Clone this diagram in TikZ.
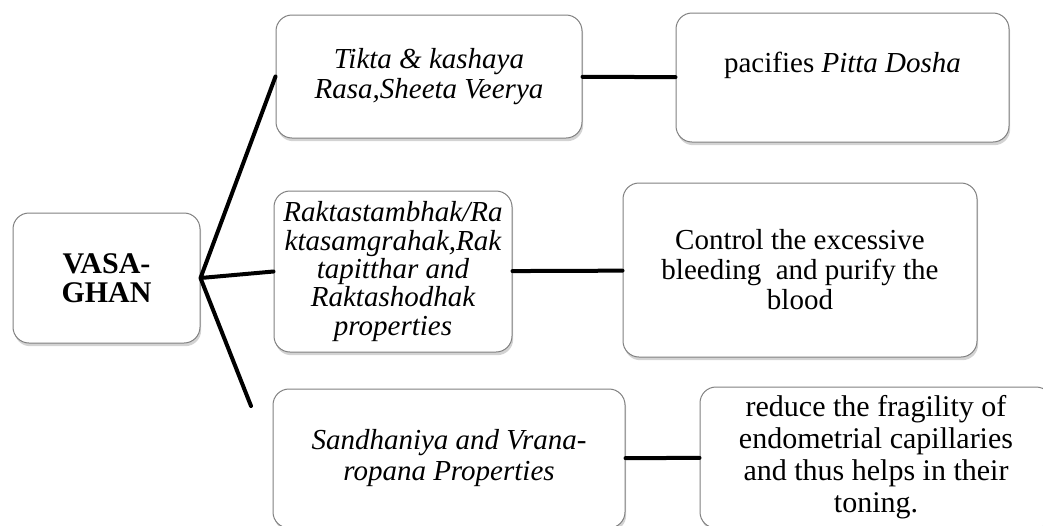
\documentclass[tikz,border=0pt]{standalone}
\usepackage{fontspec}
\setmainfont{Liberation Serif}[ItalicFont={Liberation Serif Italic}, BoldFont={Liberation Serif Bold}]
\usetikzlibrary{shadows}
\begin{document}
\begin{tikzpicture}[x=0.5pt,y=-0.5pt, font=\fontsize{14.5}{15}\selectfont, line join=round, line cap=round,
		box/.style={draw=black!50, line width=0.5pt, rounded corners=8pt, fill=white, align=center, inner sep=2pt,
			drop shadow={shadow xshift=0.6pt, shadow yshift=-1.6pt, opacity=0.35}},
		link/.style={line width=2pt}]
				\useasboundingbox (0,0) rectangle (1043,525);
				\clip (0,0) rectangle (1043,525);
				\node[box, minimum width=93.5pt, minimum height=65pt, font=\fontsize{15}{14.5}\selectfont\bfseries] (vasa) at (106.5,278) {VASA-\\GHAN};
				\node[box, minimum width=153pt, minimum height=61.5pt] (tikta) at (429,76.5) {\itshape Tikta \& kashaya\\ \itshape Rasa,Sheeta Veerya};
				\node[box, minimum width=166.5pt, minimum height=64.5pt] (pitta) at (842.5,77.5) {pacifies \textit{Pitta Dosha}\\ \mbox{}};
				\node[box, minimum width=119pt, minimum height=80.5pt, font=\fontsize{14.5}{14.2}\selectfont\itshape] (rakta) at (393,271.5) {Raktastambhak/Ra\\ktasamgrahak,Rak\\tapitthar and\\Raktashodhak\\properties};
				\node[box, minimum width=177pt, minimum height=87pt] (bleed) at (800,270) {Control the excessive\\bleeding\ \ and purify the\\blood};
				\node[box, minimum width=176pt, minimum height=69.5pt, font=\fontsize{14.5}{15.5}\selectfont\itshape] (sandh) at (449,458.5) {Sandhaniya and Vrana-\\ropana Properties};
				\node[box, minimum width=176pt, minimum height=70.5pt, font=\fontsize{15}{16}\selectfont] (tone) at (876,457.5) {reduce the fragility\ of\\endometrial capillaries\\and thus helps in their\\toning.};
				\coordinate (tail) at (251,406);
				\draw[link] (tikta.west) -- (vasa.east) -- (rakta.west) (vasa.east) -- (tail);
				\draw[link] (tikta) -- (pitta);
				\draw[link] (rakta) -- (bleed);
				\draw[link] (sandh) -- (tone);
			\end{tikzpicture}
\end{document}
